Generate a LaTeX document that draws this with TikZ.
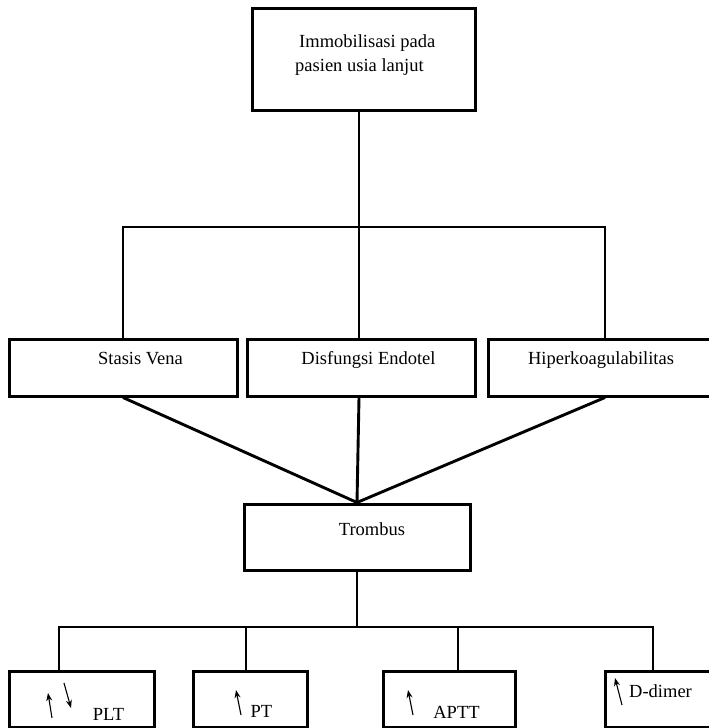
\documentclass[tikz,border=0pt]{standalone}
\usepackage{fontspec}
\setmainfont{Liberation Serif}
\usetikzlibrary{arrows.meta}
\begin{document}
\begin{tikzpicture}[x=1pt,y=1pt,
        box/.style={draw=black,line width=3pt,inner sep=0pt},
        txt/.style={inner sep=0pt,anchor=base,font=\fontsize{18.5}{24}\selectfont},
        link/.style={line width=2.9pt},
        updown/.style={-{Stealth[length=8pt,width=6pt]},line width=1.1pt}]
            \useasboundingbox (0,0) rectangle (709,-728);
            % boxes
            \node[box,minimum width=223,minimum height=102] (immob) at (363.5,-59) {};
            \node[box,minimum width=228,minimum height=57] (stasis) at (123,-367.5) {};
            \node[box,minimum width=228,minimum height=57] (disf) at (361,-367.5) {};
            \node[box,minimum width=224,minimum height=57] (hiper) at (600,-367.5) {};
            \node[box,minimum width=226,minimum height=66] (trombus) at (357,-537) {};
            \node[box,minimum width=145,minimum height=56] (plt) at (81.5,-699) {};
            \node[box,minimum width=114,minimum height=56] (pt) at (250,-699) {};
            \node[box,minimum width=132,minimum height=56] (aptt) at (449,-699) {};
            \node[box,minimum width=110,minimum height=56] (ddimer) at (660,-699) {};
            % texts
            \node[txt,anchor=base west] (immobA) at (299,-47) {Immobilisasi pada};
            \node[txt,anchor=base west] (immobB) at (295,-71) {pasien usia lanjut};
            \node[txt] (stasisT) at (140.5,-364) {Stasis Vena};
            \node[txt] (disfT) at (368.5,-364) {Disfungsi Endotel};
            \node[txt] (hiperT) at (601,-364) {Hiperkoagulabilitas};
            \node[txt] (trombusT) at (372,-535) {Trombus};
            \node[txt] (pltT) at (108.5,-720) {PLT};
            \node[txt] (ptT) at (261.5,-717) {PT};
            \node[txt] (apttT) at (456.5,-718) {APTT};
            \node[txt,anchor=base west] (ddimerT) at (629,-697) {D-dimer};
            % connectors
            \coordinate (topM) at (359,-227);
            \coordinate (topR) at (605,-227);
            \draw[link] (topM |- immob.south) -- (topM |- disf.north);
            \draw[link] (stasis.north) |- (topR) -- (topR |- hiper.north);
            \draw[link] (stasis.south) -- (trombus.north);
            \draw[link] (topM |- disf.south) -- (trombus.north);
            \draw[link] (topR |- hiper.south) -- (trombus.north);
            \coordinate (b1) at (59,-627);
            \coordinate (b2) at (246,-627);
            \coordinate (b3) at (458,-627);
            \coordinate (b4) at (653,-627);
            \draw[link] (trombus.south) -- (trombus.south |- b1);
            \draw[link] (b1 |- plt.north) |- (b4) -- (b4 |- ddimer.north);
            \draw[link] (b2) -- (b2 |- pt.north);
            \draw[link] (b3) -- (b3 |- aptt.north);
            % small arrows
            \draw[updown] (52,-718) -- (48,-693);
            \draw[updown] (64,-683) -- (71,-708);
            \draw[updown] (241,-715) -- (236,-690);
            \draw[updown] (413,-715) -- (408,-690);
            \draw[updown] (622,-705) -- (615,-678);
\end{tikzpicture}
\end{document}
